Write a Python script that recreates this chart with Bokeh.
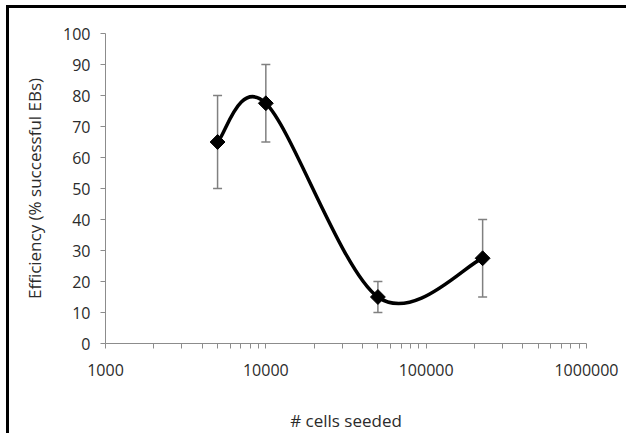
import numpy as np
from bokeh.plotting import figure
from bokeh.models import (ColumnDataSource, Range1d, FixedTicker, SingleIntervalTicker,
                          PrintfTickFormatter, Whisker, TeeHead)
from bokeh.embed import file_html
from bokeh.resources import INLINE

# Embryoid body formation efficiency vs. number of seeded cells
cells_seeded = [5000, 10000, 50000, 225000]
efficiency = [65.0, 77.5, 15.0, 27.5]
err_lower = [50.0, 65.0, 10.0, 15.0]
err_upper = [80.0, 90.0, 20.0, 40.0]

x_major = [1000, 10000, 100000, 1000000]
y_ticks_step = 10

FONT = "Open Sans"
TEXT = "#2b2b2b"
AXIS = "#8c8c8c"

p = figure(width=620, height=428, x_axis_type="log",
           x_range=Range1d(1000, 1000000), y_range=Range1d(0, 100),
           output_backend="svg", toolbar_location=None,
           min_border_left=96, min_border_right=43,
           min_border_top=25, min_border_bottom=93)
p.styles = {"margin-left": "6px", "margin-top": "5px",
            "border-left": "3px solid black", "border-top": "3px solid black"}
p.outline_line_color = None
p.xgrid.grid_line_color = None
p.ygrid.grid_line_color = None
p.background_fill_color = "white"
p.border_fill_color = "white"

# x axis: decades with log-spaced minor ticks
minor = [m * d for d in x_major[:-1] for m in range(2, 10)]
p.xaxis.ticker = FixedTicker(ticks=x_major, minor_ticks=minor)
p.xaxis.formatter = PrintfTickFormatter(format="%d")
p.yaxis.ticker = SingleIntervalTicker(interval=y_ticks_step)

for ax in (p.xaxis[0], p.yaxis[0]):
    ax.axis_line_color = AXIS
    ax.axis_line_width = 1
    ax.major_tick_line_color = AXIS
    ax.major_tick_in = 0
    ax.major_tick_out = 5
    ax.major_label_text_font = FONT
    ax.major_label_text_font_size = "16px"
    ax.major_label_text_color = TEXT
    ax.axis_label_text_font = FONT
    ax.axis_label_text_font_size = "17px"
    ax.axis_label_text_font_style = "normal"
    ax.axis_label_text_color = TEXT

p.xaxis.minor_tick_line_color = AXIS
p.xaxis.minor_tick_in = 0
p.xaxis.minor_tick_out = 5
p.yaxis.minor_tick_line_color = None

p.xaxis.axis_label = "# cells seeded"
p.yaxis.axis_label = "Efficiency (% successful EBs)"
p.xaxis.major_label_standoff = 15
p.xaxis.axis_label_standoff = 30
p.yaxis.major_label_standoff = 10
p.yaxis.axis_label_standoff = 14

src = ColumnDataSource(dict(x=cells_seeded, y=efficiency,
                            lower=err_lower, upper=err_upper))

# error bars
err = Whisker(base="x", lower="lower", upper="upper", source=src,
              dimension="height", line_color="#808080", line_width=1.5,
              upper_head=TeeHead(size=9, line_color="#808080", line_width=1.5),
              lower_head=TeeHead(size=9, line_color="#808080", line_width=1.5))
p.add_layout(err)

# smoothed line: Catmull-Rom control points in (log10 x, y), drawn as cubic Beziers
lx = np.log10(np.array(cells_seeded, dtype=float))
ly = np.array(efficiency, dtype=float)
n = len(lx)
x0, y0, x1, y1, cx0, cy0, cx1, cy1 = ([] for _ in range(8))
for i in range(n - 1):
    a = max(i - 1, 0)
    b = min(i + 2, n - 1)
    c0x = lx[i] + (lx[i + 1] - lx[a]) / 6.0
    c0y = ly[i] + (ly[i + 1] - ly[a]) / 6.0
    c1x = lx[i + 1] - (lx[b] - lx[i]) / 6.0
    c1y = ly[i + 1] - (ly[b] - ly[i]) / 6.0
    x0.append(10 ** lx[i]); y0.append(ly[i])
    x1.append(10 ** lx[i + 1]); y1.append(ly[i + 1])
    cx0.append(10 ** c0x); cy0.append(c0y)
    cx1.append(10 ** c1x); cy1.append(c1y)

p.bezier(x0=x0, y0=y0, x1=x1, y1=y1, cx0=cx0, cy0=cy0, cx1=cx1, cy1=cy1,
         line_color="black", line_width=3.5)

p.scatter("x", "y", source=src, marker="square", size=10.5, angle=np.pi / 4,
          fill_color="black", line_color="black")

open("out.html", "w").write(file_html(p, INLINE))
